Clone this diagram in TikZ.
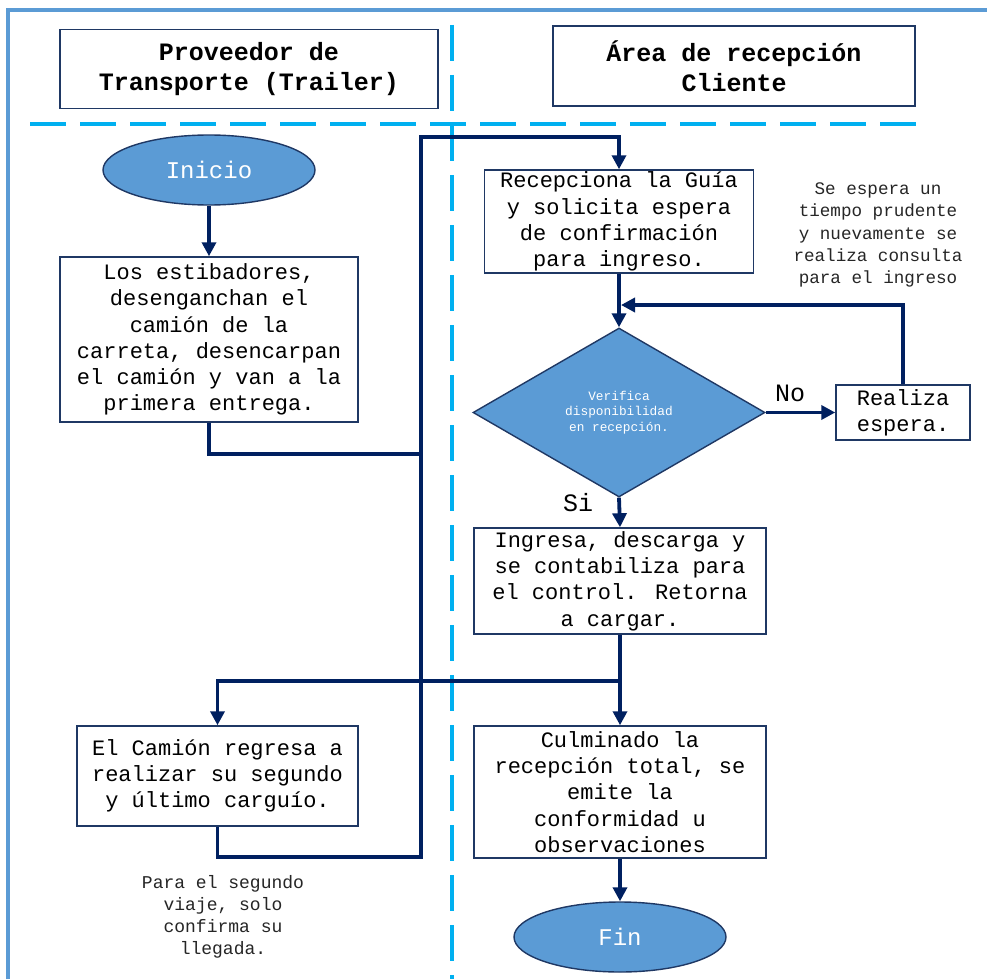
\documentclass[tikz,border=0pt]{standalone}
\usepackage{fontspec}
\setmainfont{Liberation Mono}
\usetikzlibrary{shapes.geometric,arrows.meta}
\definecolor{frameblue}{HTML}{5B9BD5}
\definecolor{lanecyan}{HTML}{00B0F0}
\definecolor{navy}{HTML}{002060}
\definecolor{boxline}{HTML}{1F3864}
\definecolor{shapefill}{HTML}{5B9BD5}
\tikzset{
  header/.style={draw=boxline,line width=1.6pt,minimum width=#1,minimum height=79pt,
    inner sep=0pt,align=center,font=\fontsize{25}{30}\selectfont\bfseries},
  procbox/.style={draw=boxline,line width=1.5pt,fill=white,inner sep=0pt,align=center,
    font=\fontsize{22}{26.3}\selectfont},
  terminal/.style={ellipse,draw=boxline,line width=1.4pt,fill=shapefill,minimum width=212pt,
    minimum height=70pt,inner sep=0pt,text=white,font=\fontsize{24}{28}\selectfont},
  decision/.style={diamond,draw=boxline,line width=1.4pt,fill=shapefill,minimum width=292pt,
    minimum height=169pt,inner sep=0pt,align=center,text=white,
    font=\fontsize{12.8}{15.7}\selectfont},
  note/.style={align=center,inner sep=0pt,text=black!85,font=\fontsize{17.6}{22.2}\selectfont},
  branchlabel/.style={inner sep=0pt,font=\fontsize{25}{30}\selectfont},
  flow/.style={draw=navy,line width=3.8pt,-{Triangle[length=14pt,width=14pt]}},
  link/.style={draw=navy,line width=3.8pt},
  lane/.style={draw=lanecyan,line width=4pt,dash pattern=on 36pt off 14pt},
}
\begin{document}
\begin{tikzpicture}[x=1pt,y=-1pt]
\useasboundingbox (0,0) rectangle (987,979);
\fill[white] (0,0) rectangle (987,979);

% outer frame and swimlane separators
\draw[frameblue,line width=4pt] (8,979) -- (8,10) -- (987,10);
\draw[lane] (30,124) -- (923,124);
\draw[lane] (452,25) -- (452,979);

% lane headers
\node[header=378pt] (hdrA) at (249,69) {Proveedor de\\Transporte (Trailer)};
\node[header=362pt,minimum height=80pt] (hdrB) at (734,66) {Área de recepción\\Cliente};

% left lane
\node[terminal] (inicio) at (209,170) {Inicio};
\node[procbox,minimum width=298pt,minimum height=165pt] (estib) at (209,339.5)
  {Los estibadores,\\desenganchan el\\camión de la\\carreta, desencarpan\\el camión y van a la\\primera entrega.};
\node[procbox,minimum width=281pt,minimum height=100pt] (camion) at (217.5,776)
  {El Camión regresa a\\realizar su segundo\\y último carguío.};
\node[note,font=\fontsize{18}{21.8}\selectfont] (notaB) at (223,917)
  {Para el segundo\\viaje, solo\\confirma su\\llegada.};

% right lane
\node[procbox,minimum width=269pt,minimum height=103pt] (recep) at (619,221.5)
  {Recepciona la Guía\\y solicita espera\\de confirmación\\para ingreso.};
\node[decision] (verif) at (619,412.5) {Verifica\\disponibilidad\\en recepción.};
\node[procbox,minimum width=134pt,minimum height=55pt] (espera) at (903,412.5)
  {Realiza\\espera.};
\node[note] (notaA) at (878,235)
  {Se espera un\\tiempo prudente\\y nuevamente se\\realiza consulta\\para el ingreso};
\node[procbox,minimum width=292pt,minimum height=106pt] (ingresa) at (620,581)
  {Ingresa, descarga y\\se contabiliza para\\el control. Retorna\\a cargar.};
\node[procbox,minimum width=292pt,minimum height=132pt] (culmina) at (620,792)
  {Culminado la\\recepción total, se\\emite la\\conformidad u\\observaciones};
\node[terminal] (fin) at (620,937) {Fin};
\node[branchlabel] (lblNo) at (790,393) {No};
\node[branchlabel] (lblSi) at (578,503) {Si};

% connector waypoints
\coordinate (jA) at (421,454);
\coordinate (trunkB) at (421,857);
\coordinate (trunkT) at (421,137);
\coordinate (loopIn) at (621,305);
\coordinate (jB) at (620,681);

% connectors
\draw[flow] (inicio.south) -- (estib.north);
\draw[link] (estib.south) |- (jA);
\draw[flow] (camion.south) |- (trunkB) -- (trunkT) -| (recep.north);
\draw[flow] (recep.south) -- (verif.north);
\draw[flow] (verif.east) -- (espera.west);
\draw[flow] (espera.north) |- (loopIn);
\draw[flow] (verif.south) -- (ingresa.north);
\draw[flow] (ingresa.south) -- (culmina.north);
\draw[flow] (jB) -| (camion.north);
\draw[flow] (culmina.south) -- (fin.north);
\end{tikzpicture}
\end{document}
